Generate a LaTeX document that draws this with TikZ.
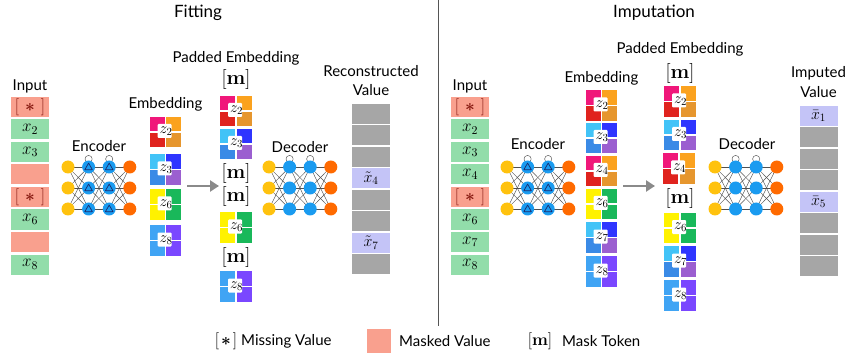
\RequirePackage{fix-cm}
\documentclass[tikz,border=0pt]{standalone}
\usepackage[no-math]{fontspec}
\setmainfont{Lato}
\usetikzlibrary{arrows.meta,backgrounds,calc}

\definecolor{ingreen}{HTML}{92DDAA}
\definecolor{salmon}{HTML}{F9A08E}
\definecolor{dred}{HTML}{861810}
\definecolor{recgray}{HTML}{A6A6A6}
\definecolor{lav}{HTML}{C4C4F7}
\definecolor{nyel}{HTML}{FFC20E}
\definecolor{nblu}{HTML}{1A9BF0}
\definecolor{norg}{HTML}{FF6A00}
\definecolor{trin}{HTML}{1A2A6C}
\definecolor{edgec}{HTML}{505050}
\definecolor{arrowgray}{HTML}{8A8A8A}
\definecolor{divc}{HTML}{555555}
% tile palettes
\definecolor{pA}{HTML}{F0177A}\definecolor{pB}{HTML}{FBA21E}\definecolor{pC}{HTML}{E0231E}\definecolor{pD}{HTML}{E6962E}
\definecolor{bA}{HTML}{42C3F7}\definecolor{bB}{HTML}{2F35FF}\definecolor{bC}{HTML}{3A8AE6}\definecolor{bD}{HTML}{9B5FD0}
\definecolor{yA}{HTML}{FFF200}\definecolor{gB}{HTML}{19B85A}
\definecolor{sA}{HTML}{40A4F4}\definecolor{vB}{HTML}{7A47FF}

\tikzset{
  lbl/.style={font=\fontsize{15}{18}\selectfont, inner sep=0pt},
  ttl/.style={font=\fontsize{17}{20}\selectfont, inner sep=0pt},
  cell/.style={minimum width=38pt, minimum height=20pt, inner sep=0pt, font=\fontsize{17}{18}\selectfont},
  outcell/.style={minimum width=38pt, minimum height=20pt, inner sep=0pt, font=\fontsize{16}{18}\selectfont},
  neuron/.style={circle, minimum size=13pt, inner sep=0pt},
  edge/.style={draw=edgec, line width=0.45pt},
  tilebox/.style={minimum width=31pt, minimum height=30pt, inner sep=0pt},
  zlab/.style={inner sep=0pt, font=\fontsize{15.5}{16}\selectfont},
  mtok/.style={font=\fontsize{20}{21}\selectfont, inner sep=0pt},
  bigarrow/.style={draw=arrowgray, line width=2.6pt, -{Triangle[length=9pt,width=11pt]}},
  divider/.style={draw=divc, line width=0.8pt},
}

\newcommand{\nnet}[4]{%
  \foreach \c/\cc in {0/nyel,1/nblu,2/nblu,3/norg}{
    \foreach \r in {0,1,2}{
      \node[neuron,fill=\cc] (#1-\c-\r) at ({#2+20.6*\c},{#3+21*\r}) {};
    }
  }
  \begin{pgfonlayer}{background}
    \foreach \c/\d in {0/1,1/2,2/3}{
      \foreach \r in {0,1,2}{
        \foreach \s in {0,1,2}{
          \draw[edge] (#1-\c-\r.center) -- (#1-\d-\s.center);
        }
      }
    }
    \foreach \c in {1,2}{
      \draw[edge] ([yshift=8pt]#1-\c-0.center) circle (3.6pt);
    }
  \end{pgfonlayer}
  \ifnum#4=1
    \foreach \c in {1,2}{
      \foreach \r in {0,1,2}{
        \draw[trin, line width=0.7pt, line join=round]
          ([shift={(-3.8pt,-2.7pt)}]#1-\c-\r.center) --
          ([shift={(3.8pt,-2.7pt)}]#1-\c-\r.center) --
          ([shift={(0pt,3.9pt)}]#1-\c-\r.center) -- cycle;
      }
    }
  \fi
}

\newcommand{\ztile}[8]{%
  \node[tilebox] (#1) at (#2,#3) {};
  \fill[#4] (#1.north west) rectangle ([xshift=-0.7pt,yshift=0.7pt]#1.center);
  \fill[#5] (#1.north east) rectangle ([xshift=0.7pt,yshift=0.7pt]#1.center);
  \fill[#6] (#1.south west) rectangle ([xshift=-0.7pt,yshift=-0.7pt]#1.center);
  \fill[#7] (#1.south east) rectangle ([xshift=0.7pt,yshift=-0.7pt]#1.center);
  \fill[white, rounded corners=1pt] ([shift={(-8pt,8pt)}]#1.center) rectangle ([shift={(6pt,-6pt)}]#1.center);
  \node[zlab] (#1-l) at ([shift={(0.5pt,0.5pt)}]#1.center) {$z_{#8}$};
}

\newcommand{\bast}{{\boldmath$\ast$}}
\newcommand{\miss}{\color{dred}$[$\hspace{6pt}\bast\hspace{6pt}$]$}

\begin{document}
\begin{tikzpicture}[x=1pt,y=-1pt]
\useasboundingbox (0,0) rectangle (851,358);

% titles and divider
\node[ttl] (tfit) at (198,13) {Fitting};
\node[ttl] (timp) at (654,13) {Imputation};
\coordinate (dvT) at (438,0);
\coordinate (dvB) at (438,326);
\draw[divider] (dvT) -- (dvB);

% ================= LEFT: Fitting =================
\node[lbl] (inLt) at (30,86) {Input};
\node[cell,fill=salmon] (inL1) at (30,107) {\miss};
\node[cell,fill=ingreen] (inL2) at (30,129.5) {$x_2$};
\node[cell,fill=ingreen] (inL3) at (30,152) {$x_3$};
\node[cell,fill=salmon] (inL4) at (30,174.5) {};
\node[cell,fill=salmon] (inL5) at (30,197) {\miss};
\node[cell,fill=ingreen] (inL6) at (30,219.5) {$x_6$};
\node[cell,fill=salmon] (inL7) at (30,242) {};
\node[cell,fill=ingreen] (inL8) at (30,264.5) {$x_8$};

\node[lbl] (encLt) at (99,146) {Encoder};
\nnet{encL}{68}{167}{1}

\node[lbl] (embLt) at (165.5,104) {Embedding};
\ztile{eL2}{165.5}{132}{pA}{pB}{pC}{pD}{2}
\ztile{eL3}{165.5}{169.5}{bA}{bB}{bC}{bD}{3}
\ztile{eL6}{165.5}{204.5}{yA}{gB}{yA}{gB}{6}
\ztile{eL8}{165.5}{240.5}{sA}{vB}{sA}{vB}{8}

\coordinate (aL1) at (187,186);
\coordinate (aL2) at (219,186);
\draw[bigarrow] (aL1) -- (aL2);

\node[lbl] (padLt) at (236,58) {Padded Embedding};
\node[mtok] (pL1) at (236,80) {$[\mathbf{m}]$};
\ztile{pL2}{236}{111}{pA}{pB}{pC}{pD}{2}
\ztile{pL3}{236}{144}{bA}{bB}{bC}{bD}{3}
\node[mtok] (pL4) at (236,173.5) {$[\mathbf{m}]$};
\node[mtok] (pL5) at (236,196.5) {$[\mathbf{m}]$};
\ztile{pL6}{236}{227.5}{yA}{gB}{yA}{gB}{6}
\node[mtok] (pL7) at (236,257) {$[\mathbf{m}]$};
\ztile{pL8}{236}{286.5}{sA}{vB}{sA}{vB}{8}

\node[lbl] (decLt) at (300,147) {Decoder};
\nnet{decL}{269}{167}{0}

\node[lbl] (recLt1) at (371,71) {Reconstructed};
\node[lbl] (recLt2) at (371,90) {Value};
\foreach \k in {0,1,2,4,5,7}{
  \node[outcell,fill=recgray] (rL\k) at (371,{113.75+21.5*\k}) {};
}
\node[outcell,fill=lav] (rL3) at (371,{113.75+21.5*3}) {$\tilde{x}_4$};
\node[outcell,fill=lav] (rL6) at (371,{113.75+21.5*6}) {$\tilde{x}_7$};

% ================= RIGHT: Imputation =================
\node[lbl] (inRt) at (470,86) {Input};
\node[cell,fill=salmon] (inR1) at (470,107) {\miss};
\node[cell,fill=ingreen] (inR2) at (470,129.5) {$x_2$};
\node[cell,fill=ingreen] (inR3) at (470,152) {$x_3$};
\node[cell,fill=ingreen] (inR4) at (470,174.5) {$x_4$};
\node[cell,fill=salmon] (inR5) at (470,197) {\miss};
\node[cell,fill=ingreen] (inR6) at (470,219.5) {$x_6$};
\node[cell,fill=ingreen] (inR7) at (470,242) {$x_7$};
\node[cell,fill=ingreen] (inR8) at (470,264.5) {$x_8$};

\node[lbl] (encRt) at (538,144) {Encoder};
\nnet{encR}{507}{167}{1}

\node[lbl] (embRt) at (601.5,78) {Embedding};
\ztile{eR2}{601.5}{105.5}{pA}{pB}{pC}{pD}{2}
\ztile{eR3}{601.5}{138}{bA}{bB}{bC}{bD}{3}
\ztile{eR4}{601.5}{171}{pA}{pB}{pC}{pD}{4}
\ztile{eR6}{601.5}{204}{yA}{gB}{yA}{gB}{6}
\ztile{eR7}{601.5}{237.5}{bA}{bB}{bC}{bD}{7}
\ztile{eR8}{601.5}{271.5}{sA}{vB}{sA}{vB}{8}

\coordinate (aR1) at (623,186);
\coordinate (aR2) at (655,186);
\draw[bigarrow] (aR1) -- (aR2);

\node[lbl] (padRt) at (680,49) {Padded Embedding};
\node[mtok] (pR1) at (680,74) {$[\mathbf{m}]$};
\ztile{pR2}{680}{101.5}{pA}{pB}{pC}{pD}{2}
\ztile{pR3}{680}{135}{bA}{bB}{bC}{bD}{3}
\ztile{pR4}{679}{168.5}{pA}{pB}{pC}{pD}{4}
\node[mtok] (pR5) at (680,199) {$[\mathbf{m}]$};
\ztile{pR6}{680}{228}{yA}{gB}{yA}{gB}{6}
\ztile{pR7}{680}{261.5}{bA}{bB}{bC}{bD}{7}
\ztile{pR8}{680}{295.5}{sA}{vB}{sA}{vB}{8}

\node[lbl] (decRt) at (747,144) {Decoder};
\nnet{decR}{715}{167}{0}

\node[lbl] (impRt1) at (818.5,73) {Imputed};
\node[lbl] (impRt2) at (818.5,92) {Value};
\foreach \k in {1,2,3,5,6,7}{
  \node[outcell,fill=recgray] (rR\k) at (818.5,{115.75+21.5*\k}) {};
}
\node[outcell,fill=lav] (rR0) at (818.5,115.75) {$\bar{x}_1$};
\node[outcell,fill=lav] (rR4) at (818.5,{115.75+21.5*4}) {$\bar{x}_5$};

% ================= Legend =================
\node[font=\fontsize{17}{18}\selectfont, inner sep=0pt] (lg1) at (226,341) {$[$\hspace{2pt}\bast\hspace{2pt}$]$};
\node[lbl, anchor=west] (lg1t) at (241,341) {Missing Value};
\node[minimum size=24pt, inner sep=0pt, fill=salmon] (lg2) at (378.5,341) {};
\node[lbl, anchor=west] (lg2t) at (399,341) {Masked Value};
\node[font=\fontsize{17}{18}\selectfont, inner sep=0pt] (lg3) at (540,341) {$[\mathbf{m}]$};
\node[lbl, anchor=west] (lg3t) at (562,341) {Mask Token};
\end{tikzpicture}
\end{document}
